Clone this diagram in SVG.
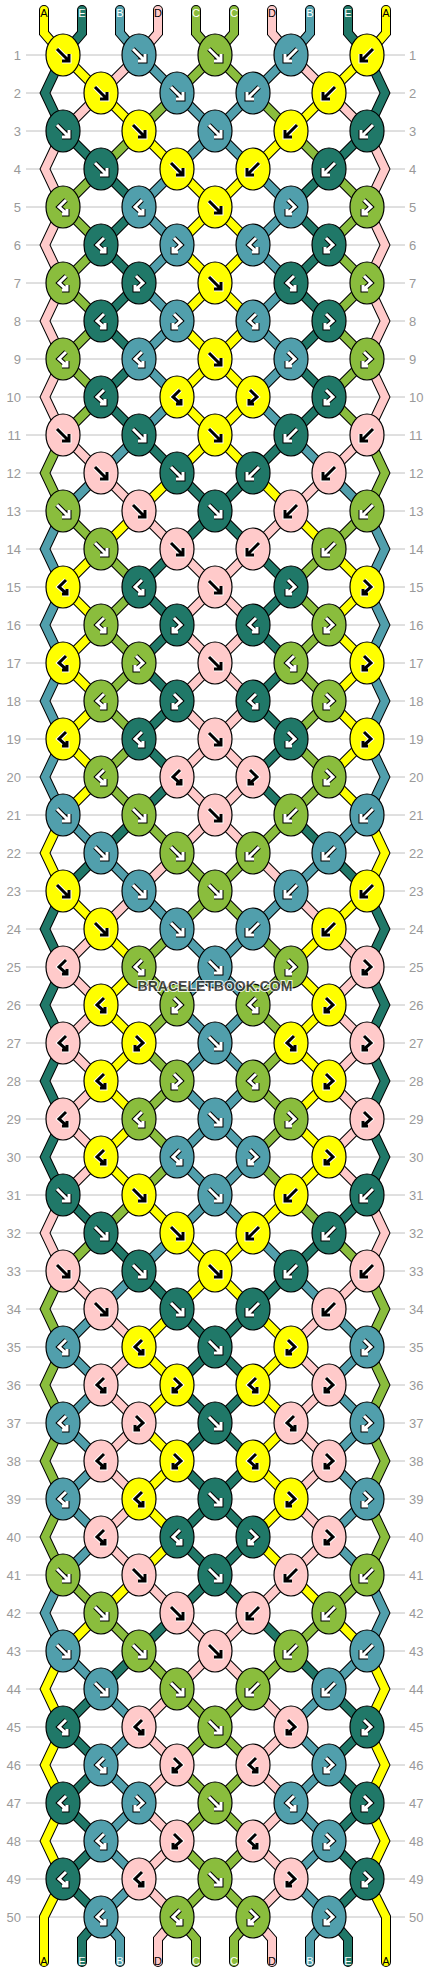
<svg xmlns="http://www.w3.org/2000/svg" width="430" height="1972" viewBox="0 0 430 1972">
<style>
.Y{fill:#ffff00;color:#000;stroke:#fff}
.P{fill:#ffcaca;color:#000;stroke:#fff}
.D{fill:#207868;color:#fff;stroke:#000}
.T{fill:#519fac;color:#fff;stroke:#000}
.G{fill:#8abd3d;color:#fff;stroke:#000}
.num{font-family:"Liberation Sans",Arial,sans-serif;font-size:13px;fill:#999}
.lab{font-family:"Liberation Sans",Arial,sans-serif;font-size:11px;text-anchor:middle}
.wm{font-family:"Liberation Sans",Arial,sans-serif;font-size:14px;font-weight:bold;text-anchor:middle;fill:#333;stroke:#fff;stroke-width:2;paint-order:stroke;opacity:.85}
</style>
<defs>
<path id="s0" d="M44 10V33L63 55 101 93 139 131 177 169 215 207 253 245 215 283 177 321 215 359 253 397 215 435 177 473 139 511 101 549 63 587 101 625 63 663 101 701 63 739 101 777 63 815 45 853 63 891 101 929 139 967 101 1005 139 1043 101 1081 139 1119 101 1157 139 1195 177 1233 215 1271 253 1309 291 1347 253 1385 291 1423 253 1461 291 1499 253 1537 291 1575 329 1613 367 1651 385 1689 367 1727 385 1765 367 1803 385 1841 367 1879 386 1917V1962"/>
<path id="s1" d="M82 10V33L63 55 45 93 63 131 101 169 139 207 101 245 139 283 101 321 139 359 101 397 139 435 177 473 215 511 253 549 291 587 253 625 291 663 253 701 291 739 253 777 291 815 329 853 367 891 385 929 367 967 385 1005 367 1043 385 1081 367 1119 385 1157 367 1195 329 1233 291 1271 253 1309 215 1347 177 1385 215 1423 253 1461 215 1499 177 1537 215 1575 253 1613 291 1651 329 1689 367 1727 329 1765 367 1803 329 1841 367 1879 329 1917 348 1939V1962"/>
<path id="s2" d="M120 10V33L139 55 177 93 215 131 253 169 291 207 253 245 291 283 253 321 291 359 253 397 291 435 329 473 367 511 385 549 367 587 385 625 367 663 385 701 367 739 385 777 367 815 329 853 291 891 253 929 215 967 177 1005 215 1043 253 1081 215 1119 177 1157 215 1195 253 1233 291 1271 329 1309 367 1347 329 1385 367 1423 329 1461 367 1499 329 1537 367 1575 385 1613 367 1651 329 1689 291 1727 329 1765 291 1803 329 1841 291 1879 329 1917 310 1939V1962"/>
<path id="s3" d="M158 10V33L139 55 101 93 63 131 45 169 63 207 45 245 63 283 45 321 63 359 45 397 63 435 101 473 139 511 177 549 215 587 253 625 215 663 177 701 215 739 253 777 215 815 177 853 139 891 101 929 63 967 101 1005 63 1043 101 1081 63 1119 101 1157 63 1195 45 1233 63 1271 101 1309 139 1347 101 1385 139 1423 101 1461 139 1499 101 1537 139 1575 177 1613 215 1651 253 1689 291 1727 253 1765 291 1803 253 1841 291 1879 253 1917 272 1939V1962"/>
<path id="s4" d="M196 10V33L215 55 253 93 291 131 329 169 367 207 329 245 367 283 329 321 367 359 329 397 367 435 385 473 367 511 329 549 291 587 329 625 291 663 329 701 291 739 329 777 291 815 253 853 215 891 177 929 139 967 177 1005 139 1043 177 1081 139 1119 177 1157 139 1195 101 1233 63 1271 45 1309 63 1347 45 1385 63 1423 45 1461 63 1499 45 1537 63 1575 101 1613 139 1651 177 1689 215 1727 253 1765 215 1803 177 1841 215 1879 253 1917 234 1939V1962"/>
<ellipse id="e" rx="17" ry="21" stroke="#000" stroke-width="1.2"/>
<path id="af" fill="none" d="M-6-6L4.5 4.5M-1 6H6V-1"/>
<path id="ab" fill="none" d="M6-6L-4.5 4.5M1 6H-6V-1"/>
<path id="afb" fill="none" d="M-3-7L4 0L-4 7M-4 2V7H1"/>
<path id="abf" fill="none" d="M3-7L-4 0L4 7M4 2V7H-1"/>
<g id="f"><use href="#e"/><use href="#af" stroke-width="5"/><use href="#af" stroke="currentColor" stroke-width="3"/></g>
<g id="b"><use href="#e"/><use href="#ab" stroke-width="5"/><use href="#ab" stroke="currentColor" stroke-width="3"/></g>
<g id="fb"><use href="#e"/><use href="#afb" stroke-width="5"/><use href="#afb" stroke="currentColor" stroke-width="3"/></g>
<g id="bf"><use href="#e"/><use href="#abf" stroke-width="5"/><use href="#abf" stroke="currentColor" stroke-width="3"/></g>
</defs>
<rect width="430" height="1972" fill="#fff"/>
<g id="grid">
<path fill="none" stroke="#c0c0c0" stroke-width="1" d="M26 55H405M26 93H405M26 131H405M26 169H405M26 207H405M26 245H405M26 283H405M26 321H405M26 359H405M26 397H405M26 435H405M26 473H405M26 511H405M26 549H405M26 587H405M26 625H405M26 663H405M26 701H405M26 739H405M26 777H405M26 815H405M26 853H405M26 891H405M26 929H405M26 967H405M26 1005H405M26 1043H405M26 1081H405M26 1119H405M26 1157H405M26 1195H405M26 1233H405M26 1271H405M26 1309H405M26 1347H405M26 1385H405M26 1423H405M26 1461H405M26 1499H405M26 1537H405M26 1575H405M26 1613H405M26 1651H405M26 1689H405M26 1727H405M26 1765H405M26 1803H405M26 1841H405M26 1879H405M26 1917H405"/>
<g class="num" text-anchor="end">
<text x="21" y="60">1</text><text x="21" y="98">2</text><text x="21" y="136">3</text><text x="21" y="174">4</text><text x="21" y="212">5</text><text x="21" y="250">6</text><text x="21" y="288">7</text><text x="21" y="326">8</text><text x="21" y="364">9</text><text x="21" y="402">10</text>
<text x="21" y="440">11</text><text x="21" y="478">12</text><text x="21" y="516">13</text><text x="21" y="554">14</text><text x="21" y="592">15</text><text x="21" y="630">16</text><text x="21" y="668">17</text><text x="21" y="706">18</text><text x="21" y="744">19</text><text x="21" y="782">20</text>
<text x="21" y="820">21</text><text x="21" y="858">22</text><text x="21" y="896">23</text><text x="21" y="934">24</text><text x="21" y="972">25</text><text x="21" y="1010">26</text><text x="21" y="1048">27</text><text x="21" y="1086">28</text><text x="21" y="1124">29</text><text x="21" y="1162">30</text>
<text x="21" y="1200">31</text><text x="21" y="1238">32</text><text x="21" y="1276">33</text><text x="21" y="1314">34</text><text x="21" y="1352">35</text><text x="21" y="1390">36</text><text x="21" y="1428">37</text><text x="21" y="1466">38</text><text x="21" y="1504">39</text><text x="21" y="1542">40</text>
<text x="21" y="1580">41</text><text x="21" y="1618">42</text><text x="21" y="1656">43</text><text x="21" y="1694">44</text><text x="21" y="1732">45</text><text x="21" y="1770">46</text><text x="21" y="1808">47</text><text x="21" y="1846">48</text><text x="21" y="1884">49</text><text x="21" y="1922">50</text>
</g>
<g class="num">
<text x="409" y="60">1</text><text x="409" y="98">2</text><text x="409" y="136">3</text><text x="409" y="174">4</text><text x="409" y="212">5</text><text x="409" y="250">6</text><text x="409" y="288">7</text><text x="409" y="326">8</text><text x="409" y="364">9</text><text x="409" y="402">10</text>
<text x="409" y="440">11</text><text x="409" y="478">12</text><text x="409" y="516">13</text><text x="409" y="554">14</text><text x="409" y="592">15</text><text x="409" y="630">16</text><text x="409" y="668">17</text><text x="409" y="706">18</text><text x="409" y="744">19</text><text x="409" y="782">20</text>
<text x="409" y="820">21</text><text x="409" y="858">22</text><text x="409" y="896">23</text><text x="409" y="934">24</text><text x="409" y="972">25</text><text x="409" y="1010">26</text><text x="409" y="1048">27</text><text x="409" y="1086">28</text><text x="409" y="1124">29</text><text x="409" y="1162">30</text>
<text x="409" y="1200">31</text><text x="409" y="1238">32</text><text x="409" y="1276">33</text><text x="409" y="1314">34</text><text x="409" y="1352">35</text><text x="409" y="1390">36</text><text x="409" y="1428">37</text><text x="409" y="1466">38</text><text x="409" y="1504">39</text><text x="409" y="1542">40</text>
<text x="409" y="1580">41</text><text x="409" y="1618">42</text><text x="409" y="1656">43</text><text x="409" y="1694">44</text><text x="409" y="1732">45</text><text x="409" y="1770">46</text><text x="409" y="1808">47</text><text x="409" y="1846">48</text><text x="409" y="1884">49</text><text x="409" y="1922">50</text>
</g>
</g>
<g id="connectors" fill="none" stroke-linecap="round" stroke-linejoin="miter">
<g stroke="#000" stroke-width="10">
<use href="#s0"/><use href="#s1"/><use href="#s2"/><use href="#s3"/><use href="#s4"/>
<g transform="matrix(-1 0 0 1 430 0)"><use href="#s0"/><use href="#s1"/><use href="#s2"/><use href="#s3"/><use href="#s4"/></g>
</g>
<g stroke-width="8">
<use href="#s0" stroke="#ffff00"/><use href="#s1" stroke="#207868"/><use href="#s2" stroke="#519fac"/><use href="#s3" stroke="#ffcaca"/><use href="#s4" stroke="#8abd3d"/>
<g transform="matrix(-1 0 0 1 430 0)"><use href="#s0" stroke="#ffff00"/><use href="#s1" stroke="#207868"/><use href="#s2" stroke="#519fac"/><use href="#s3" stroke="#ffcaca"/><use href="#s4" stroke="#8abd3d"/></g>
</g>
</g>
<g id="labels" class="lab">
<text x="44" y="17">A</text><text x="82" y="17" fill="#fff">E</text><text x="120" y="17" fill="#fff">B</text><text x="158" y="17">D</text><text x="196" y="17" fill="#fff">C</text><text x="234" y="17" fill="#fff">C</text><text x="272" y="17">D</text><text x="310" y="17" fill="#fff">B</text><text x="348" y="17" fill="#fff">E</text><text x="386" y="17">A</text>
<text x="44" y="1965">A</text><text x="82" y="1965" fill="#fff">E</text><text x="120" y="1965" fill="#fff">B</text><text x="158" y="1965">D</text><text x="196" y="1965" fill="#fff">C</text><text x="234" y="1965" fill="#fff">C</text><text x="272" y="1965">D</text><text x="310" y="1965" fill="#fff">B</text><text x="348" y="1965" fill="#fff">E</text><text x="386" y="1965">A</text>
</g>
<g id="knots">
<g id="k1-1" class="Y"><use href="#f" x="63" y="55"/></g><g id="k1-2" class="T"><use href="#f" x="139" y="55"/></g><g id="k1-3" class="G"><use href="#f" x="215" y="55"/></g><g id="k1-4" class="T"><use href="#b" x="291" y="55"/></g><g id="k1-5" class="Y"><use href="#b" x="367" y="55"/></g>
<g id="k2-1" class="Y"><use href="#f" x="101" y="93"/></g><g id="k2-2" class="T"><use href="#f" x="177" y="93"/></g><g id="k2-3" class="T"><use href="#b" x="253" y="93"/></g><g id="k2-4" class="Y"><use href="#b" x="329" y="93"/></g>
<g id="k3-1" class="D"><use href="#f" x="63" y="131"/></g><g id="k3-2" class="Y"><use href="#f" x="139" y="131"/></g><g id="k3-3" class="T"><use href="#f" x="215" y="131"/></g><g id="k3-4" class="Y"><use href="#b" x="291" y="131"/></g><g id="k3-5" class="D"><use href="#b" x="367" y="131"/></g>
<g id="k4-1" class="D"><use href="#f" x="101" y="169"/></g><g id="k4-2" class="Y"><use href="#f" x="177" y="169"/></g><g id="k4-3" class="Y"><use href="#b" x="253" y="169"/></g><g id="k4-4" class="D"><use href="#b" x="329" y="169"/></g>
<g id="k5-1" class="G"><use href="#bf" x="63" y="207"/></g><g id="k5-2" class="T"><use href="#bf" x="139" y="207"/></g><g id="k5-3" class="Y"><use href="#f" x="215" y="207"/></g><g id="k5-4" class="T"><use href="#fb" x="291" y="207"/></g><g id="k5-5" class="G"><use href="#fb" x="367" y="207"/></g>
<g id="k6-1" class="D"><use href="#bf" x="101" y="245"/></g><g id="k6-2" class="T"><use href="#fb" x="177" y="245"/></g><g id="k6-3" class="T"><use href="#bf" x="253" y="245"/></g><g id="k6-4" class="D"><use href="#fb" x="329" y="245"/></g>
<g id="k7-1" class="G"><use href="#bf" x="63" y="283"/></g><g id="k7-2" class="D"><use href="#fb" x="139" y="283"/></g><g id="k7-3" class="Y"><use href="#f" x="215" y="283"/></g><g id="k7-4" class="D"><use href="#bf" x="291" y="283"/></g><g id="k7-5" class="G"><use href="#fb" x="367" y="283"/></g>
<g id="k8-1" class="D"><use href="#bf" x="101" y="321"/></g><g id="k8-2" class="T"><use href="#fb" x="177" y="321"/></g><g id="k8-3" class="T"><use href="#bf" x="253" y="321"/></g><g id="k8-4" class="D"><use href="#fb" x="329" y="321"/></g>
<g id="k9-1" class="G"><use href="#bf" x="63" y="359"/></g><g id="k9-2" class="T"><use href="#bf" x="139" y="359"/></g><g id="k9-3" class="Y"><use href="#f" x="215" y="359"/></g><g id="k9-4" class="T"><use href="#fb" x="291" y="359"/></g><g id="k9-5" class="G"><use href="#fb" x="367" y="359"/></g>
<g id="k10-1" class="D"><use href="#bf" x="101" y="397"/></g><g id="k10-2" class="Y"><use href="#bf" x="177" y="397"/></g><g id="k10-3" class="Y"><use href="#fb" x="253" y="397"/></g><g id="k10-4" class="D"><use href="#fb" x="329" y="397"/></g>
<g id="k11-1" class="P"><use href="#f" x="63" y="435"/></g><g id="k11-2" class="D"><use href="#f" x="139" y="435"/></g><g id="k11-3" class="Y"><use href="#f" x="215" y="435"/></g><g id="k11-4" class="D"><use href="#b" x="291" y="435"/></g><g id="k11-5" class="P"><use href="#b" x="367" y="435"/></g>
<g id="k12-1" class="P"><use href="#f" x="101" y="473"/></g><g id="k12-2" class="D"><use href="#f" x="177" y="473"/></g><g id="k12-3" class="D"><use href="#b" x="253" y="473"/></g><g id="k12-4" class="P"><use href="#b" x="329" y="473"/></g>
<g id="k13-1" class="G"><use href="#f" x="63" y="511"/></g><g id="k13-2" class="P"><use href="#f" x="139" y="511"/></g><g id="k13-3" class="D"><use href="#f" x="215" y="511"/></g><g id="k13-4" class="P"><use href="#b" x="291" y="511"/></g><g id="k13-5" class="G"><use href="#b" x="367" y="511"/></g>
<g id="k14-1" class="G"><use href="#f" x="101" y="549"/></g><g id="k14-2" class="P"><use href="#f" x="177" y="549"/></g><g id="k14-3" class="P"><use href="#b" x="253" y="549"/></g><g id="k14-4" class="G"><use href="#b" x="329" y="549"/></g>
<g id="k15-1" class="Y"><use href="#bf" x="63" y="587"/></g><g id="k15-2" class="D"><use href="#bf" x="139" y="587"/></g><g id="k15-3" class="P"><use href="#f" x="215" y="587"/></g><g id="k15-4" class="D"><use href="#fb" x="291" y="587"/></g><g id="k15-5" class="Y"><use href="#fb" x="367" y="587"/></g>
<g id="k16-1" class="G"><use href="#bf" x="101" y="625"/></g><g id="k16-2" class="D"><use href="#fb" x="177" y="625"/></g><g id="k16-3" class="D"><use href="#bf" x="253" y="625"/></g><g id="k16-4" class="G"><use href="#fb" x="329" y="625"/></g>
<g id="k17-1" class="Y"><use href="#bf" x="63" y="663"/></g><g id="k17-2" class="G"><use href="#fb" x="139" y="663"/></g><g id="k17-3" class="P"><use href="#f" x="215" y="663"/></g><g id="k17-4" class="G"><use href="#bf" x="291" y="663"/></g><g id="k17-5" class="Y"><use href="#fb" x="367" y="663"/></g>
<g id="k18-1" class="G"><use href="#bf" x="101" y="701"/></g><g id="k18-2" class="D"><use href="#fb" x="177" y="701"/></g><g id="k18-3" class="D"><use href="#bf" x="253" y="701"/></g><g id="k18-4" class="G"><use href="#fb" x="329" y="701"/></g>
<g id="k19-1" class="Y"><use href="#bf" x="63" y="739"/></g><g id="k19-2" class="D"><use href="#bf" x="139" y="739"/></g><g id="k19-3" class="P"><use href="#f" x="215" y="739"/></g><g id="k19-4" class="D"><use href="#fb" x="291" y="739"/></g><g id="k19-5" class="Y"><use href="#fb" x="367" y="739"/></g>
<g id="k20-1" class="G"><use href="#bf" x="101" y="777"/></g><g id="k20-2" class="P"><use href="#bf" x="177" y="777"/></g><g id="k20-3" class="P"><use href="#fb" x="253" y="777"/></g><g id="k20-4" class="G"><use href="#fb" x="329" y="777"/></g>
<g id="k21-1" class="T"><use href="#f" x="63" y="815"/></g><g id="k21-2" class="G"><use href="#f" x="139" y="815"/></g><g id="k21-3" class="P"><use href="#f" x="215" y="815"/></g><g id="k21-4" class="G"><use href="#b" x="291" y="815"/></g><g id="k21-5" class="T"><use href="#b" x="367" y="815"/></g>
<g id="k22-1" class="T"><use href="#f" x="101" y="853"/></g><g id="k22-2" class="G"><use href="#f" x="177" y="853"/></g><g id="k22-3" class="G"><use href="#b" x="253" y="853"/></g><g id="k22-4" class="T"><use href="#b" x="329" y="853"/></g>
<g id="k23-1" class="Y"><use href="#f" x="63" y="891"/></g><g id="k23-2" class="T"><use href="#f" x="139" y="891"/></g><g id="k23-3" class="G"><use href="#f" x="215" y="891"/></g><g id="k23-4" class="T"><use href="#b" x="291" y="891"/></g><g id="k23-5" class="Y"><use href="#b" x="367" y="891"/></g>
<g id="k24-1" class="Y"><use href="#f" x="101" y="929"/></g><g id="k24-2" class="T"><use href="#f" x="177" y="929"/></g><g id="k24-3" class="T"><use href="#b" x="253" y="929"/></g><g id="k24-4" class="Y"><use href="#b" x="329" y="929"/></g>
<g id="k25-1" class="P"><use href="#bf" x="63" y="967"/></g><g id="k25-2" class="G"><use href="#bf" x="139" y="967"/></g><g id="k25-3" class="T"><use href="#f" x="215" y="967"/></g><g id="k25-4" class="G"><use href="#fb" x="291" y="967"/></g><g id="k25-5" class="P"><use href="#fb" x="367" y="967"/></g>
<g id="k26-1" class="Y"><use href="#bf" x="101" y="1005"/></g><g id="k26-2" class="G"><use href="#fb" x="177" y="1005"/></g><g id="k26-3" class="G"><use href="#bf" x="253" y="1005"/></g><g id="k26-4" class="Y"><use href="#fb" x="329" y="1005"/></g>
<g id="k27-1" class="P"><use href="#bf" x="63" y="1043"/></g><g id="k27-2" class="Y"><use href="#fb" x="139" y="1043"/></g><g id="k27-3" class="T"><use href="#f" x="215" y="1043"/></g><g id="k27-4" class="Y"><use href="#bf" x="291" y="1043"/></g><g id="k27-5" class="P"><use href="#fb" x="367" y="1043"/></g>
<g id="k28-1" class="Y"><use href="#bf" x="101" y="1081"/></g><g id="k28-2" class="G"><use href="#fb" x="177" y="1081"/></g><g id="k28-3" class="G"><use href="#bf" x="253" y="1081"/></g><g id="k28-4" class="Y"><use href="#fb" x="329" y="1081"/></g>
<g id="k29-1" class="P"><use href="#bf" x="63" y="1119"/></g><g id="k29-2" class="G"><use href="#bf" x="139" y="1119"/></g><g id="k29-3" class="T"><use href="#f" x="215" y="1119"/></g><g id="k29-4" class="G"><use href="#fb" x="291" y="1119"/></g><g id="k29-5" class="P"><use href="#fb" x="367" y="1119"/></g>
<g id="k30-1" class="Y"><use href="#bf" x="101" y="1157"/></g><g id="k30-2" class="T"><use href="#bf" x="177" y="1157"/></g><g id="k30-3" class="T"><use href="#fb" x="253" y="1157"/></g><g id="k30-4" class="Y"><use href="#fb" x="329" y="1157"/></g>
<g id="k31-1" class="D"><use href="#f" x="63" y="1195"/></g><g id="k31-2" class="Y"><use href="#f" x="139" y="1195"/></g><g id="k31-3" class="T"><use href="#f" x="215" y="1195"/></g><g id="k31-4" class="Y"><use href="#b" x="291" y="1195"/></g><g id="k31-5" class="D"><use href="#b" x="367" y="1195"/></g>
<g id="k32-1" class="D"><use href="#f" x="101" y="1233"/></g><g id="k32-2" class="Y"><use href="#f" x="177" y="1233"/></g><g id="k32-3" class="Y"><use href="#b" x="253" y="1233"/></g><g id="k32-4" class="D"><use href="#b" x="329" y="1233"/></g>
<g id="k33-1" class="P"><use href="#f" x="63" y="1271"/></g><g id="k33-2" class="D"><use href="#f" x="139" y="1271"/></g><g id="k33-3" class="Y"><use href="#f" x="215" y="1271"/></g><g id="k33-4" class="D"><use href="#b" x="291" y="1271"/></g><g id="k33-5" class="P"><use href="#b" x="367" y="1271"/></g>
<g id="k34-1" class="P"><use href="#f" x="101" y="1309"/></g><g id="k34-2" class="D"><use href="#f" x="177" y="1309"/></g><g id="k34-3" class="D"><use href="#b" x="253" y="1309"/></g><g id="k34-4" class="P"><use href="#b" x="329" y="1309"/></g>
<g id="k35-1" class="T"><use href="#bf" x="63" y="1347"/></g><g id="k35-2" class="Y"><use href="#bf" x="139" y="1347"/></g><g id="k35-3" class="D"><use href="#f" x="215" y="1347"/></g><g id="k35-4" class="Y"><use href="#fb" x="291" y="1347"/></g><g id="k35-5" class="T"><use href="#fb" x="367" y="1347"/></g>
<g id="k36-1" class="P"><use href="#bf" x="101" y="1385"/></g><g id="k36-2" class="Y"><use href="#fb" x="177" y="1385"/></g><g id="k36-3" class="Y"><use href="#bf" x="253" y="1385"/></g><g id="k36-4" class="P"><use href="#fb" x="329" y="1385"/></g>
<g id="k37-1" class="T"><use href="#bf" x="63" y="1423"/></g><g id="k37-2" class="P"><use href="#fb" x="139" y="1423"/></g><g id="k37-3" class="D"><use href="#f" x="215" y="1423"/></g><g id="k37-4" class="P"><use href="#bf" x="291" y="1423"/></g><g id="k37-5" class="T"><use href="#fb" x="367" y="1423"/></g>
<g id="k38-1" class="P"><use href="#bf" x="101" y="1461"/></g><g id="k38-2" class="Y"><use href="#fb" x="177" y="1461"/></g><g id="k38-3" class="Y"><use href="#bf" x="253" y="1461"/></g><g id="k38-4" class="P"><use href="#fb" x="329" y="1461"/></g>
<g id="k39-1" class="T"><use href="#bf" x="63" y="1499"/></g><g id="k39-2" class="Y"><use href="#bf" x="139" y="1499"/></g><g id="k39-3" class="D"><use href="#f" x="215" y="1499"/></g><g id="k39-4" class="Y"><use href="#fb" x="291" y="1499"/></g><g id="k39-5" class="T"><use href="#fb" x="367" y="1499"/></g>
<g id="k40-1" class="P"><use href="#bf" x="101" y="1537"/></g><g id="k40-2" class="D"><use href="#bf" x="177" y="1537"/></g><g id="k40-3" class="D"><use href="#fb" x="253" y="1537"/></g><g id="k40-4" class="P"><use href="#fb" x="329" y="1537"/></g>
<g id="k41-1" class="G"><use href="#f" x="63" y="1575"/></g><g id="k41-2" class="P"><use href="#f" x="139" y="1575"/></g><g id="k41-3" class="D"><use href="#f" x="215" y="1575"/></g><g id="k41-4" class="P"><use href="#b" x="291" y="1575"/></g><g id="k41-5" class="G"><use href="#b" x="367" y="1575"/></g>
<g id="k42-1" class="G"><use href="#f" x="101" y="1613"/></g><g id="k42-2" class="P"><use href="#f" x="177" y="1613"/></g><g id="k42-3" class="P"><use href="#b" x="253" y="1613"/></g><g id="k42-4" class="G"><use href="#b" x="329" y="1613"/></g>
<g id="k43-1" class="T"><use href="#f" x="63" y="1651"/></g><g id="k43-2" class="G"><use href="#f" x="139" y="1651"/></g><g id="k43-3" class="P"><use href="#f" x="215" y="1651"/></g><g id="k43-4" class="G"><use href="#b" x="291" y="1651"/></g><g id="k43-5" class="T"><use href="#b" x="367" y="1651"/></g>
<g id="k44-1" class="T"><use href="#f" x="101" y="1689"/></g><g id="k44-2" class="G"><use href="#f" x="177" y="1689"/></g><g id="k44-3" class="G"><use href="#b" x="253" y="1689"/></g><g id="k44-4" class="T"><use href="#b" x="329" y="1689"/></g>
<g id="k45-1" class="D"><use href="#bf" x="63" y="1727"/></g><g id="k45-2" class="P"><use href="#bf" x="139" y="1727"/></g><g id="k45-3" class="G"><use href="#f" x="215" y="1727"/></g><g id="k45-4" class="P"><use href="#fb" x="291" y="1727"/></g><g id="k45-5" class="D"><use href="#fb" x="367" y="1727"/></g>
<g id="k46-1" class="T"><use href="#bf" x="101" y="1765"/></g><g id="k46-2" class="P"><use href="#fb" x="177" y="1765"/></g><g id="k46-3" class="P"><use href="#bf" x="253" y="1765"/></g><g id="k46-4" class="T"><use href="#fb" x="329" y="1765"/></g>
<g id="k47-1" class="D"><use href="#bf" x="63" y="1803"/></g><g id="k47-2" class="T"><use href="#fb" x="139" y="1803"/></g><g id="k47-3" class="G"><use href="#f" x="215" y="1803"/></g><g id="k47-4" class="T"><use href="#bf" x="291" y="1803"/></g><g id="k47-5" class="D"><use href="#fb" x="367" y="1803"/></g>
<g id="k48-1" class="T"><use href="#bf" x="101" y="1841"/></g><g id="k48-2" class="P"><use href="#fb" x="177" y="1841"/></g><g id="k48-3" class="P"><use href="#bf" x="253" y="1841"/></g><g id="k48-4" class="T"><use href="#fb" x="329" y="1841"/></g>
<g id="k49-1" class="D"><use href="#bf" x="63" y="1879"/></g><g id="k49-2" class="P"><use href="#bf" x="139" y="1879"/></g><g id="k49-3" class="G"><use href="#f" x="215" y="1879"/></g><g id="k49-4" class="P"><use href="#fb" x="291" y="1879"/></g><g id="k49-5" class="D"><use href="#fb" x="367" y="1879"/></g>
<g id="k50-1" class="T"><use href="#bf" x="101" y="1917"/></g><g id="k50-2" class="G"><use href="#bf" x="177" y="1917"/></g><g id="k50-3" class="G"><use href="#fb" x="253" y="1917"/></g><g id="k50-4" class="T"><use href="#fb" x="329" y="1917"/></g>
</g>
<text class="wm" x="215" y="991">BRACELETBOOK.COM</text>
</svg>
